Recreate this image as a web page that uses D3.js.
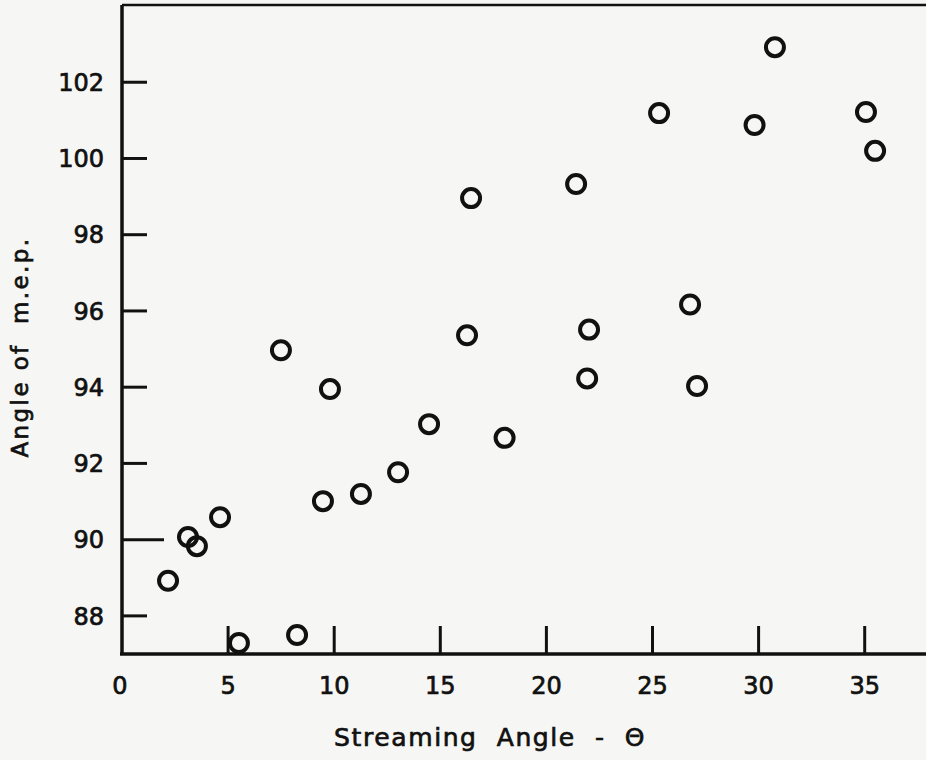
<!DOCTYPE html>
<html>
<head>
<meta charset="utf-8">
<script src="https://cdn.jsdelivr.net/npm/d3@7"></script>
<style>
  html, body { margin: 0; padding: 0; background: #f6f6f4; }
  svg { display: block; }
  text { font-family: "DejaVu Sans", sans-serif; fill: #111; stroke: #111; stroke-width: 0.7px; }
</style>
</head>
<body>
<svg id="chart" width="926" height="760"></svg>
<script>
// streaming angle (deg) vs angle of m.e.p.
const streamAngle = [2.17, 3.11, 3.53, 4.62, 5.51, 7.49, 8.25, 9.47, 9.80, 11.26, 13.01, 14.47, 16.26,
  16.45, 18.03, 21.40, 21.92, 22.01, 25.31, 26.77, 27.10, 29.81, 30.77, 35.06, 35.49];
const mepAngle = [88.92, 90.07, 89.83, 90.59, 87.29, 94.97, 87.50, 91.01, 93.95, 91.20, 91.77, 93.03, 95.36,
  98.96, 92.67, 99.33, 94.23, 95.51, 101.19, 96.17, 94.03, 100.88, 102.92, 101.22, 100.20];
const xTicks = [0, 5, 10, 15, 20, 25, 30, 35];
const yTicks = [88, 90, 92, 94, 96, 98, 100, 102];

const svg = d3.select('#chart');
const plotLeft = 122, plotBottom = 654, plotTop = 6;

const x = d3.scaleLinear().domain([0, 38]).range([plotLeft, plotLeft + 38 * 21.22]);
const y = d3.scaleLinear().domain([87, 104]).range([plotBottom, plotTop]);

const ink = '#111';

// frame: left, top, bottom
svg.append('line').attr('x1', plotLeft).attr('x2', plotLeft).attr('y1', plotTop - 1).attr('y2', plotBottom + 1)
  .attr('stroke', ink).attr('stroke-width', 3.5);
svg.append('line').attr('x1', plotLeft).attr('x2', 926).attr('y1', plotTop - 1).attr('y2', plotTop - 1)
  .attr('stroke', ink).attr('stroke-width', 2.5);
svg.append('line').attr('x1', plotLeft - 2).attr('x2', 926).attr('y1', plotBottom).attr('y2', plotBottom)
  .attr('stroke', ink).attr('stroke-width', 3.5);

// y ticks point inward
svg.append('g').selectAll('line').data(yTicks).join('line')
  .attr('x1', plotLeft).attr('x2', d => d === 90 ? plotLeft + 42 : plotLeft + 25)
  .attr('y1', d => y(d)).attr('y2', d => y(d))
  .attr('stroke', ink).attr('stroke-width', 3);
svg.append('g').selectAll('text').data(yTicks).join('text')
  .attr('x', 104).attr('y', d => y(d)).attr('dy', '0.36em')
  .attr('text-anchor', 'end').attr('font-size', 24)
  .text(d => d);

// x ticks point up (none at 0)
svg.append('g').selectAll('line').data(xTicks.filter(d => d > 0)).join('line')
  .attr('x1', d => x(d)).attr('x2', d => x(d))
  .attr('y1', plotBottom).attr('y2', plotBottom - 28)
  .attr('stroke', ink).attr('stroke-width', 3);
svg.append('g').selectAll('text').data(xTicks).join('text')
  .attr('x', d => x(d) - (d === 0 ? 2 : 0)).attr('y', 685).attr('dy', '0.36em')
  .attr('text-anchor', 'middle').attr('font-size', 24)
  .text(d => d);

// points
svg.append('g').selectAll('circle').data(streamAngle.map((v, i) => [v, mepAngle[i]])).join('circle')
  .attr('cx', d => x(d[0])).attr('cy', d => y(d[1])).attr('r', 9)
  .attr('fill', 'none').attr('stroke', ink).attr('stroke-width', 4);

// axis titles
svg.append('text').attr('x', 490).attr('y', 746).attr('text-anchor', 'middle')
  .attr('font-size', 25).attr('letter-spacing', 1.6).attr('xml:space', 'preserve')
  .text('Streaming  Angle  -  Θ');
svg.append('text').attr('transform', 'translate(28,347) rotate(-90)').attr('text-anchor', 'middle')
  .attr('font-size', 23).attr('letter-spacing', 2.4).attr('xml:space', 'preserve')
  .text('Angle of  m.e.p.');
</script>
</body>
</html>
